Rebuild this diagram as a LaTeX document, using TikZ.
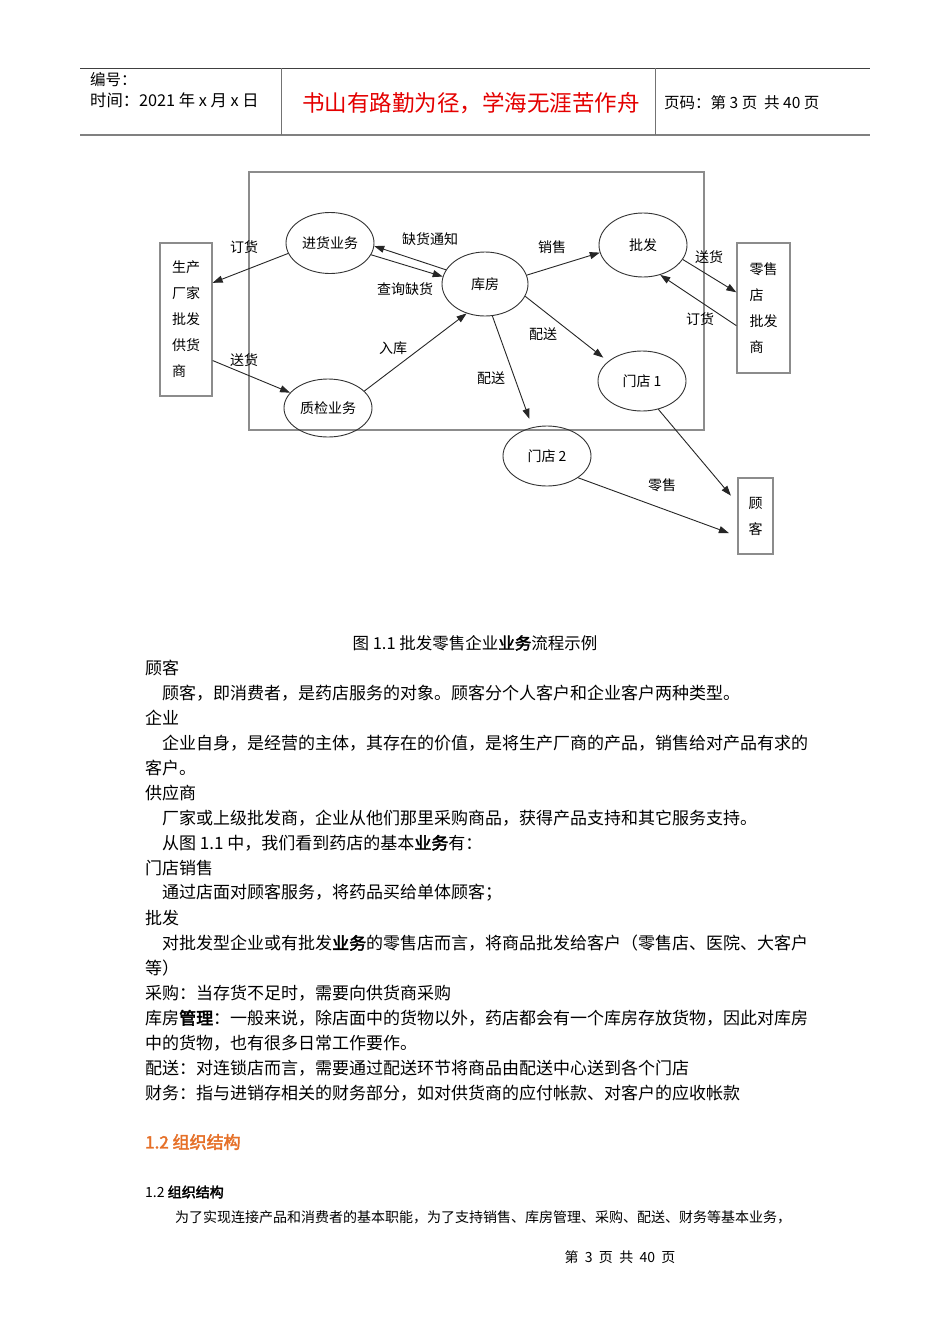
\documentclass[tikz,border=0pt]{standalone}
\usepackage{fontspec}
\setmainfont{Noto Sans CJK SC}[AutoFakeBold=2.5]
\usepackage{tikz}
\usetikzlibrary{arrows.meta,shapes.geometric,positioning}

\definecolor{mottored}{RGB}{228,0,0}
\definecolor{headorange}{RGB}{230,112,40}

\begin{document}
\begin{tikzpicture}[x=1pt,y=-1pt,
proc/.style={ellipse,draw=black!80,line width=0.9pt,minimum width=88pt,minimum height=61pt,inner sep=0pt,font=\fontsize{14}{16}\selectfont},
party/.style={draw=black!45,line width=1.3pt,align=left,inner ysep=0pt,font=\fontsize{14}{26}\selectfont},
flow/.style={draw=black!85,line width=0.9pt,-{Triangle[length=10pt,width=7pt]}},
lbl/.style={inner sep=0pt,font=\fontsize{14}{16}\selectfont},
hdr/.style={anchor=west,inner sep=0pt,font=\fontsize{15.5}{17}\selectfont},
body/.style={anchor=west,inner sep=0pt,font=\fontsize{17}{20}\selectfont},
small/.style={anchor=west,inner sep=0pt,font=\fontsize{14}{16}\selectfont},
]
\useasboundingbox[fill=white] (0,0) rectangle (950,1344);

% page header
\draw[black!75,line width=1pt] (80,68) -- (870,68);
\draw[black!50,line width=2pt] (80,135) -- (870,135);
\draw[black!55,line width=1pt] (281,68) -- (281,135) (655,68) -- (655,135);
\node[hdr] (num) at (90,80) {编号：};
\node[hdr,font=\fontsize{16.3}{18}\selectfont] (date) at (90,100) {时间：2021 年 x 月 x 日};
\node[inner sep=0pt,text=mottored,font=\fontsize{22.5}{24}\selectfont] (motto) at (471,103) {书山有路勤为径，学海无涯苦作舟};
\node[hdr] (pageno) at (664,103) {页码：第 3 页\ \ 共 40 页};

% flow chart
\draw[black!45,line width=1.3pt] (249,172) rectangle (704,430);

\node[party,inner xsep=12pt,minimum height=153pt] (maker) at (186,319.5) {生产\\厂家\\批发\\供货\\商};
\node[proc] (purchase) at (330,243) {进货业务};
\node[proc,minimum width=86pt,minimum height=64pt] (store) at (485,284) {库房};
\node[proc,minimum height=64pt] (whole) at (643,245) {批发};
\node[proc,minimum height=60pt] (shop1) at (642,381) {门店 1};
\node[proc,minimum height=58pt] (check) at (328,408) {质检业务};
\node[proc,minimum height=60pt] (shop2) at (547,456) {门店 2};
\node[party,inner xsep=12.5pt,minimum height=130pt] (retailer) at (763.5,308) {零售\\店\\批发\\商};
\node[party,inner xsep=10.5pt,minimum height=76pt] (customer) at (755.5,516) {顾\\客};

\draw[flow] (purchase.194) -- (maker.54);
\draw[flow] (maker.-57) -- (check.158);
\draw[flow] (check.25) -- (store.238);
\draw[flow] (store.160) -- (purchase.-4);
\draw[flow] (purchase.-16) -- (store.170);
\draw[flow] (store.12) -- (whole.190);
\draw[flow,shorten >=6pt] (store.-17) -- (shop1.150);
\draw[flow,shorten >=9pt] (store.-77) -- (shop2.117);
\draw[flow] (whole.-20) -- (retailer.150);
\draw[flow] (retailer.213) -- (whole.-60);
\draw[flow,shorten >=10pt] (shop1.-60) -- (customer.145);
\draw[flow,shorten >=9pt] (shop2.-35) -- (customer.228);

\node[lbl] (order1) at (244,247) {订货};
\node[lbl] (deliver1) at (244,360) {送货};
\node[lbl] (instock) at (393,348) {入库};
\node[lbl] (lack) at (430,239) {缺货通知};
\node[lbl] (query) at (405,289) {查询缺货};
\node[lbl] (sell) at (552,247) {销售};
\node[lbl] (dist1) at (543,334) {配送};
\node[lbl] (dist2) at (491,378) {配送};
\node[lbl] (deliver2) at (709,257) {送货};
\node[lbl] (order2) at (700,319) {订货};
\node[lbl] (retail) at (662,485) {零售};

\node[inner sep=0pt,font=\fontsize{16.5}{18}\selectfont] (caption) at (475,643) {图 1.1 批发零售企业\textbf{业务}流程示例};

% body text
\node[body] (t1) at (145,668) {顾客};
\node[body] (t2) at (162,693) {顾客，即消费者，是药店服务的对象。顾客分个人客户和企业客户两种类型。};
\node[body] (t3) at (145,718) {企业};
\node[body] (t4) at (162,743) {企业自身，是经营的主体，其存在的价值，是将生产厂商的产品，销售给对产品有求的};
\node[body] (t5) at (145,768) {客户。};
\node[body] (t6) at (145,793) {供应商};
\node[body] (t7) at (162,818) {厂家或上级批发商，企业从他们那里采购商品，获得产品支持和其它服务支持。};
\node[body] (t8) at (162,843) {从图 1.1 中，我们看到药店的基本\textbf{业务}有：};
\node[body] (t9) at (145,868) {门店销售};
\node[body] (t10) at (162,893) {通过店面对顾客服务，将药品买给单体顾客；};
\node[body] (t11) at (145,918) {批发};
\node[body] (t12) at (162,943) {对批发型企业或有批发\textbf{业务}的零售店而言，将商品批发给客户（零售店、医院、大客户};
\node[body] (t13) at (145,968) {等）};
\node[body] (t14) at (145,993) {采购：当存货不足时，需要向供货商采购};
\node[body] (t15) at (145,1018) {库房\textbf{管理}：一般来说，除店面中的货物以外，药店都会有一个库房存放货物，因此对库房};
\node[body] (t16) at (145,1043) {中的货物，也有很多日常工作要作。};
\node[body] (t17) at (145,1068) {配送：对连锁店而言，需要通过配送环节将商品由配送中心送到各个门店};
\node[body] (t18) at (145,1093) {财务：指与进销存相关的财务部分，如对供货商的应付帐款、对客户的应收帐款};

\node[anchor=west,inner sep=0pt,text=headorange,font=\fontsize{17}{19}\selectfont\bfseries] (sect) at (145,1142) {1.2 组织结构};
\node[small] (subsect) at (145,1192) {1.2 \textbf{组织结构}};
\node[small] (t19) at (175,1217) {为了实现连接产品和消费者的基本职能，为了支持销售、库房管理、采购、配送、财务等基本业务，};
\node[inner sep=0pt,font=\fontsize{14}{16}\selectfont] (footer) at (620,1257) {第\ \ 3\ \ 页\ \ 共\ \ 40\ \ 页};
\end{tikzpicture}
\end{document}
